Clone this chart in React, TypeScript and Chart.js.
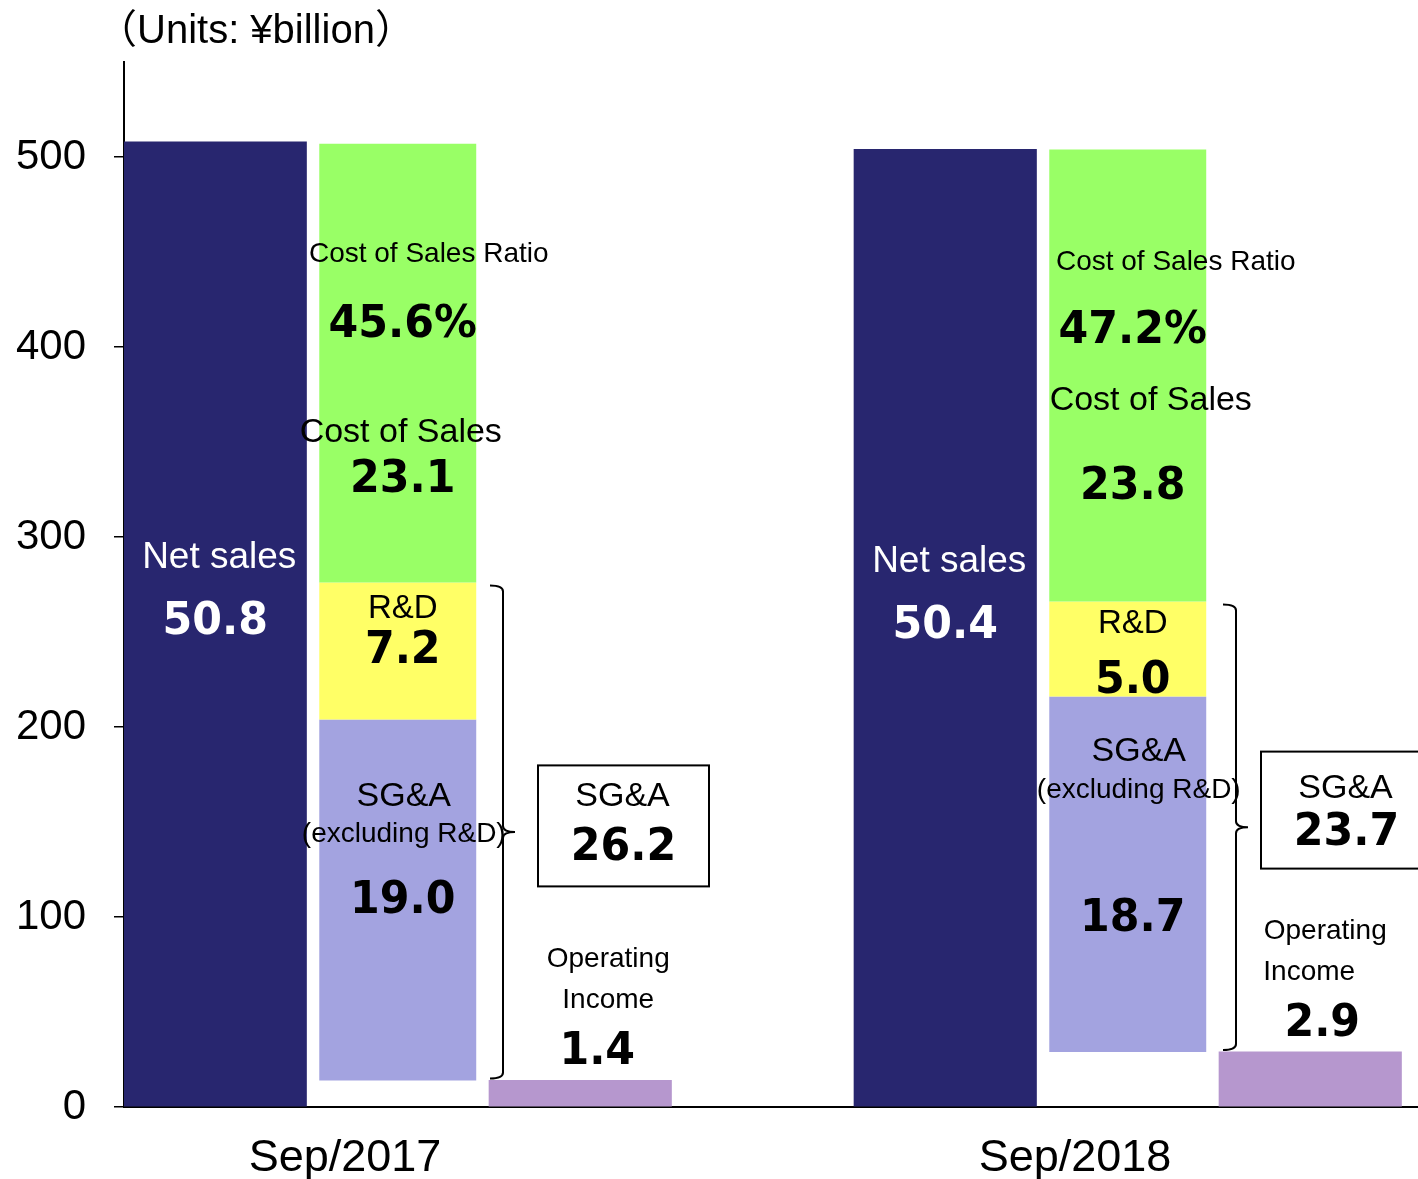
import React, { useEffect, useRef } from 'react';
import { Chart, registerables } from 'chart.js';

Chart.register(...registerables);

// ---- data (¥billion) ----
const categories = ['Sep/2017', 'Sep/2018'];
const netSales = [50.8, 50.4];
const costOfSales = [23.1, 23.8];
const costRatioLabels = ['45.6%', '47.2%'];
const rnd = [7.2, 5.0];
const sgaExRnd = [19.0, 18.7];
const operatingIncome = [1.4, 2.9];
const unitsTitle = '（Units: ¥billion）';
const yMax = 55;
const yStep = 10;
const yTickFactor = 10; // axis labels 0..500

const NAVY = '#28266F';
const GREEN = '#99FF66';
const YELLOW = '#FFFF66';
const LAVENDER = '#A3A3E0';
const PURPLE = '#B697CE';

const sgaFloat = categories.map((_, i) => [operatingIncome[i], operatingIncome[i] + sgaExRnd[i]]);
const rndFloat = categories.map((_, i) => [sgaFloat[i][1], sgaFloat[i][1] + rnd[i]]);
const costFloat = categories.map((_, i) => [rndFloat[i][1], rndFloat[i][1] + costOfSales[i]]);
const sgaTotal = categories.map((_, i) => rnd[i] + sgaExRnd[i]);

const LBL = (px: number) => `${px}px 'Liberation Sans', Arial, sans-serif`;
const NUM = `bold 45px 'DejaVu Sans', Verdana, sans-serif`;
const NUM_SX = 0.95;

const annotations = {
  id: 'annotations',
  afterDatasetsDraw(chart: any) {
    const ctx = chart.ctx as CanvasRenderingContext2D;
    const el = (d: number, i: number) =>
      chart.getDatasetMeta(d).data[i].getProps(['x', 'y', 'base', 'width'], true);
    const txt = (s: string, x: number, y: number, font: string, color = '#000', align: CanvasTextAlign = 'center', sx = 1) => {
      ctx.save();
      ctx.font = font;
      ctx.fillStyle = color;
      ctx.textAlign = align;
      ctx.textBaseline = 'middle';
      ctx.translate(x, y);
      ctx.scale(sx, 1);
      ctx.fillText(s, 0, 0);
      ctx.restore();
    };
    const num = (s: string, x: number, y: number, color = '#000') => txt(s, x, y, NUM, color, 'center', NUM_SX);

    // per-category layout offsets (pixels)
    const costDx = 5;
    const costRatioLblDy = [111, 113];
    const costRatioLblDx = [26, 43];
    const costRatioDy = [182, 182];
    const costNameDy = [289, 251];
    const costNameDx = [-2, 18];
    const costValDy = [337, 338];
    const rndNameDy = [26, 22];
    const rndValDy = [69, 80];
    const sgaNameDy = [77, 55];
    const sgaExclDy = [115, 94];
    const sgaValDy = [182, 223];
    const sgaDx = [1, 6];
    const braceDx = [1, 4];
    const boxDx = [49, 42];
    const boxDy = [46, 55];
    const boxH = [121, 117];
    const boxNameDy = [31, 37];
    const boxValDy = [83, 82];
    const opDx = [[28, 28, 17], [15, -1, 12]];

    categories.forEach((_, i) => {
      const net = el(0, i);
      const cost = el(1, i);
      const rd = el(2, i);
      const sg = el(3, i);
      const op = el(4, i);
      const cx = cost.x + costDx;

      // Net sales
      const netMid = (net.y + net.base) / 2;
      txt('Net sales', net.x + 4, netMid - 66, LBL(37), '#fff');
      num(netSales[i].toFixed(1), net.x, netMid - 2, '#fff');

      // Cost of sales
      txt('Cost of Sales Ratio', cx + costRatioLblDx[i], cost.y + costRatioLblDy[i], LBL(28));
      txt(costRatioLabels[i], cx, cost.y + costRatioDy[i], NUM, '#000', 'center', NUM_SX);
      txt('Cost of Sales', cx + costNameDx[i], cost.y + costNameDy[i], LBL(34));
      num(costOfSales[i].toFixed(1), cx, cost.y + costValDy[i]);

      // R&D
      txt('R&D', cx, rd.y + rndNameDy[i], LBL(33));
      num(rnd[i].toFixed(1), cx, rd.y + rndValDy[i]);

      // SG&A excluding R&D
      txt('SG&A', cx + sgaDx[i], sg.y + sgaNameDy[i], LBL(34));
      txt('(excluding R&D)', cx + sgaDx[i], sg.y + sgaExclDy[i], LBL(28));
      num(sgaExRnd[i].toFixed(1), cx, sg.y + sgaValDy[i]);

      // brace
      const opLeft = op.x - op.width / 2;
      const x0 = opLeft + braceDx[i];
      const x1 = x0 + 13;
      const top = rd.y + 3;
      const bottom = sg.base - 2;
      const mid = (top + bottom) / 2;
      const r = 6;
      ctx.save();
      ctx.strokeStyle = '#000';
      ctx.lineWidth = 2;
      ctx.beginPath();
      ctx.moveTo(x0, top);
      ctx.quadraticCurveTo(x1, top, x1, top + r);
      ctx.lineTo(x1, mid - r);
      ctx.quadraticCurveTo(x1, mid, x1 + 12, mid);
      ctx.quadraticCurveTo(x1, mid, x1, mid + r);
      ctx.lineTo(x1, bottom - r);
      ctx.quadraticCurveTo(x1, bottom, x0, bottom);
      ctx.stroke();

      // SG&A total box
      const bx = opLeft + boxDx[i];
      const by = sg.y + boxDy[i];
      const bw = 171;
      ctx.lineWidth = 2;
      ctx.strokeRect(bx, by, bw, boxH[i]);
      ctx.restore();
      txt('SG&A', bx + bw / 2 - 1, by + boxNameDy[i], LBL(34));
      num(sgaTotal[i].toFixed(1), bx + bw / 2, by + boxValDy[i]);

      // Operating income
      txt('Operating', op.x + opDx[i][0], op.y - 121, LBL(28));
      txt('Income', op.x + opDx[i][1], op.y - 80, LBL(28));
      num(operatingIncome[i].toFixed(1), op.x + opDx[i][2], op.y - 28);
    });
  },
  afterDraw(chart: any) {
    const ctx = chart.ctx as CanvasRenderingContext2D;
    ctx.save();
    ctx.font = `40px 'Liberation Sans', 'Noto Sans CJK JP', sans-serif`;
    ctx.fillStyle = '#000';
    ctx.textAlign = 'left';
    ctx.textBaseline = 'middle';
    ctx.fillText(unitsTitle, chart.chartArea.left - 27, 32);
    ctx.restore();
  },
};

export default function App() {
  const canvasRef = useRef<HTMLCanvasElement | null>(null);

  useEffect(() => {
    if (!canvasRef.current) return;
    const common = { categoryPercentage: 1, borderWidth: 0 };
    const chart = new Chart(canvasRef.current, {
      type: 'bar',
      data: {
        labels: categories,
        datasets: [
          { label: 'Net sales', data: netSales, backgroundColor: NAVY, stack: 'net', barPercentage: 1, ...common },
          { label: 'Cost of Sales', data: costFloat as any, backgroundColor: GREEN, stack: 'cost', barPercentage: 0.86, ...common },
          { label: 'R&D', data: rndFloat as any, backgroundColor: YELLOW, stack: 'cost', barPercentage: 0.86, ...common },
          { label: 'SG&A (excluding R&D)', data: sgaFloat as any, backgroundColor: LAVENDER, stack: 'cost', barPercentage: 0.86, ...common },
          { label: 'Operating Income', data: operatingIncome, backgroundColor: PURPLE, stack: 'op', barPercentage: 1, ...common },
          { label: '', data: categories.map(() => 0), backgroundColor: 'rgba(0,0,0,0)', stack: 'spacer', barPercentage: 1, ...common },
        ],
      },
      options: {
        animation: false,
        responsive: false,
        layout: { padding: { top: 62, right: 16, left: 0, bottom: 0 } },
        plugins: {
          legend: { display: false },
          tooltip: { enabled: false },
          title: { display: false },
        },
        scales: {
          x: {
            type: 'category',
            grid: { display: false },
            border: { display: true, color: '#000', width: 2 },
            ticks: {
              color: '#000',
              font: { family: "'Liberation Sans', Arial, sans-serif", size: 45 },
              padding: 17,
              labelOffset: -144,
              maxRotation: 0,
              autoSkip: false,
            },
            afterFit: (scale: any) => { scale.height = 72; },
          },
          y: {
            stacked: false,
            min: 0,
            max: yMax,
            grid: { display: true, drawOnChartArea: false, drawTicks: true, tickLength: 10, color: '#000', lineWidth: 1.5 },
            border: { display: true, color: '#000', width: 2 },
            ticks: {
              stepSize: yStep,
              color: '#000',
              padding: 28,
              font: { family: "'Liberation Sans', Arial, sans-serif", size: 42 },
              callback: (v: any) => String(Number(v) * yTickFactor),
            },
            afterBuildTicks: (scale: any) => {
              scale.ticks = scale.ticks.filter((t: any) => t.value <= 50);
            },
            afterFit: (scale: any) => { scale.width = 124; },
          },
        },
      } as any,
      plugins: [annotations],
    });
    return () => chart.destroy();
  }, []);

  return (
    <div style={{ position: 'fixed', left: 0, top: 0, width: 1418, height: 1179, overflow: 'hidden', background: '#fff' }}>
      <canvas ref={canvasRef} width={1600} height={1179} style={{ display: 'block' }} />
    </div>
  );
}
